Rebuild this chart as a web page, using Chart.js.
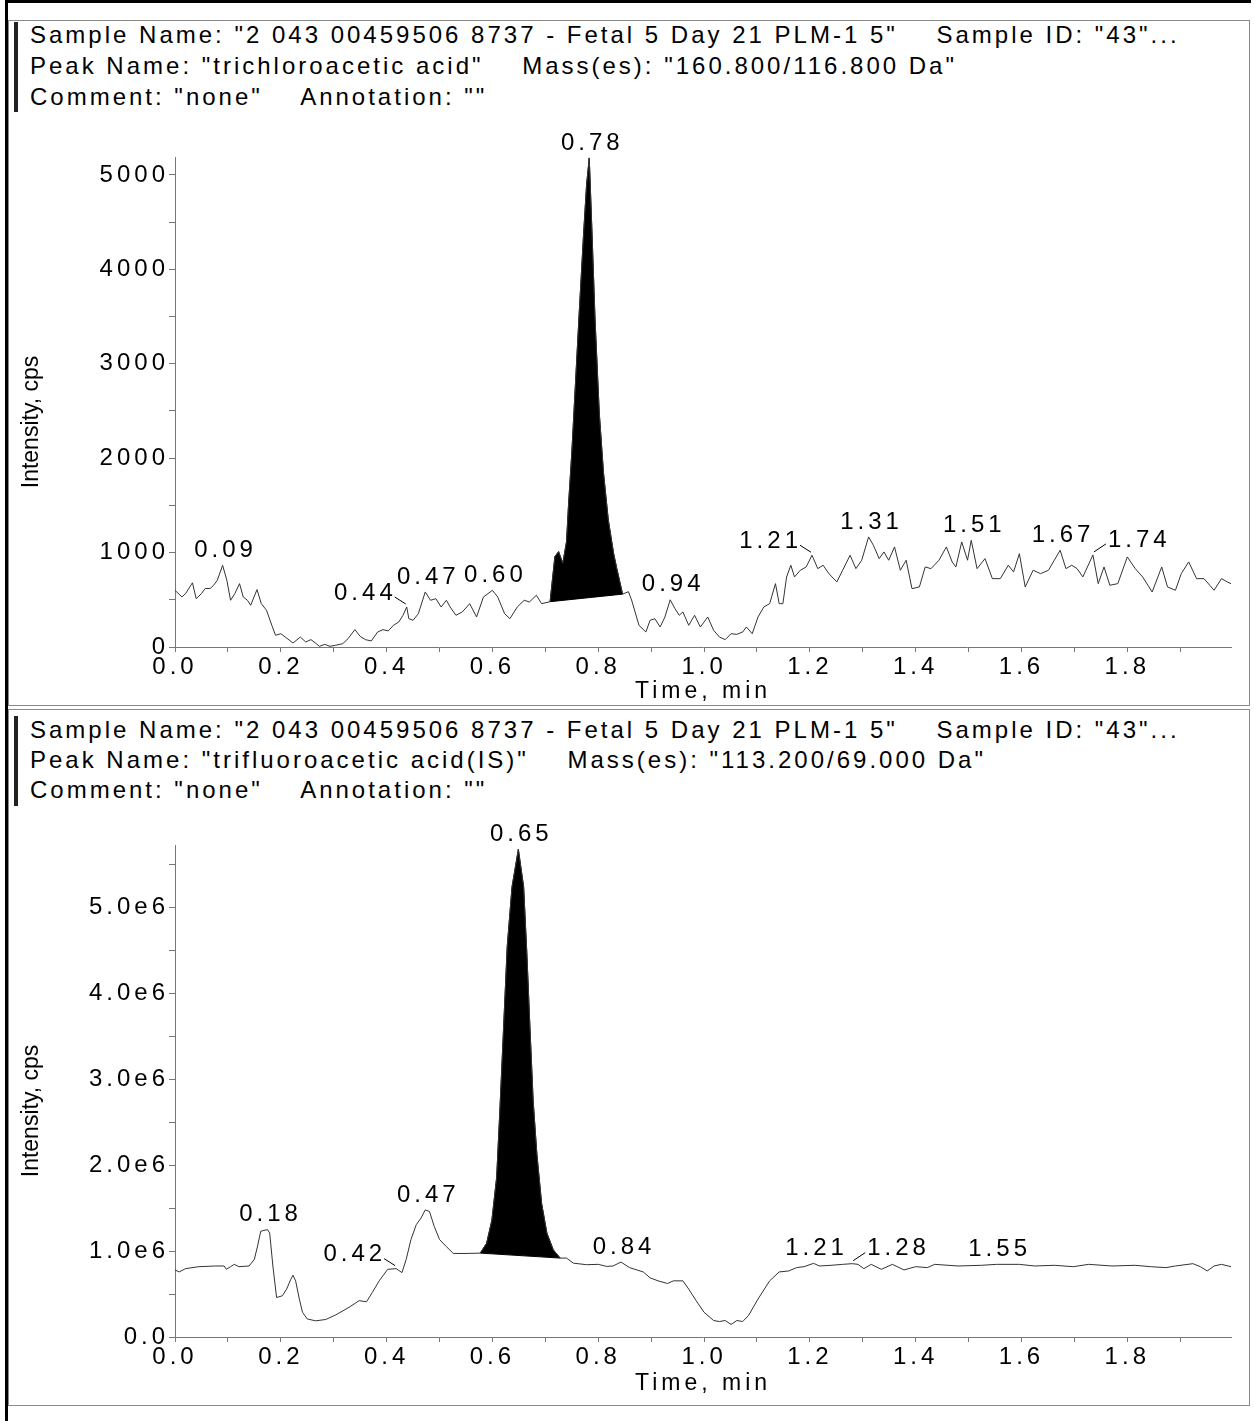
<!DOCTYPE html>
<html>
<head>
<meta charset="utf-8">
<title>Chromatograms</title>
<script src="https://cdn.jsdelivr.net/npm/chart.js@4.4.1/dist/chart.umd.min.js"></script>
<style>
  html, body { margin: 0; padding: 0; background: #fff; }
  body { width: 1254px; height: 1421px; position: relative; overflow: hidden; font-family: "Liberation Sans", Arial, sans-serif; }
  .frame { position: absolute; left: 5px; top: 0; width: 1246px; height: 1421px; border-top: 3px solid #000; border-left: 3px solid #000; box-sizing: border-box; }
  .panel { position: absolute; left: 8px; width: 1242px; border: 1px solid #8a8a8a; box-sizing: border-box; }
  .bar { position: absolute; left: 14px; width: 4px; background: #222; }
  .header { position: absolute; left: 30px; font-size: 24px; letter-spacing: 3px; color: #000; white-space: pre; }
  canvas { position: absolute; left: 0; }
</style>
</head>
<body>
<div class="frame"></div>
<div class="panel" style="top:20px;height:686px"></div>
<div class="panel" style="top:709px;height:697px"></div>
<div class="bar" style="top:22px;height:90px"></div>
<div class="bar" style="top:716px;height:90px"></div>
<div class="header" style="top:19px;line-height:31px">Sample Name: "2 043 00459506 8737 - Fetal 5 Day 21 PLM-1 5"    Sample ID: "43"...
Peak Name: "trichloroacetic acid"    Mass(es): "160.800/116.800 Da"
Comment: "none"    Annotation: ""</div>
<div class="header" style="top:715px;line-height:30px">Sample Name: "2 043 00459506 8737 - Fetal 5 Day 21 PLM-1 5"    Sample ID: "43"...
Peak Name: "trifluoroacetic acid(IS)"    Mass(es): "113.200/69.000 Da"
Comment: "none"    Annotation: ""</div>
<canvas id="tcaChart" width="1254" height="593" style="top:112px"></canvas>
<canvas id="tfaChart" width="1254" height="595" style="top:810px"></canvas>
<script>
// trichloroacetic acid, 160.8/116.8 Da (time in min, intensity in cps)
const time1 = [0, 0.013, 0.02, 0.03, 0.033, 0.04, 0.05, 0.057, 0.067, 0.073, 0.08, 0.09, 0.098, 0.105, 0.113, 0.122, 0.129, 0.137, 0.143, 0.155,
  0.163, 0.173, 0.183, 0.19, 0.2, 0.21, 0.223, 0.237, 0.247, 0.257, 0.267, 0.273, 0.283, 0.293, 0.303, 0.317, 0.327, 0.34, 0.35, 0.36,
  0.371, 0.383, 0.393, 0.403, 0.413, 0.423, 0.431, 0.438, 0.442, 0.45, 0.46, 0.473, 0.483, 0.493, 0.503, 0.513, 0.52, 0.531, 0.543, 0.557,
  0.57, 0.583, 0.6, 0.61, 0.623, 0.633, 0.647, 0.66, 0.67, 0.683, 0.693, 0.709, 0.718, 0.725, 0.733, 0.74, 0.744, 0.75, 0.756, 0.764,
  0.772, 0.778, 0.783, 0.788, 0.794, 0.802, 0.81, 0.819, 0.829, 0.835, 0.846, 0.857, 0.863, 0.877, 0.89, 0.898, 0.907, 0.917, 0.926, 0.936,
  0.945, 0.953, 0.96, 0.971, 0.982, 0.993, 1.007, 1.018, 1.029, 1.04, 1.051, 1.062, 1.073, 1.08, 1.091, 1.102, 1.113, 1.124, 1.135, 1.142,
  1.149, 1.156, 1.164, 1.171, 1.182, 1.193, 1.204, 1.215, 1.225, 1.236, 1.251, 1.262, 1.276, 1.287, 1.298, 1.311, 1.32, 1.331, 1.34, 1.349,
  1.36, 1.371, 1.382, 1.393, 1.407, 1.418, 1.429, 1.444, 1.458, 1.469, 1.476, 1.487, 1.498, 1.505, 1.516, 1.531, 1.545, 1.56, 1.575, 1.585,
  1.596, 1.607, 1.622, 1.636, 1.651, 1.662, 1.673, 1.684, 1.695, 1.705, 1.716, 1.735, 1.745, 1.756, 1.767, 1.782, 1.8, 1.815, 1.829, 1.847,
  1.865, 1.876, 1.891, 1.902, 1.916, 1.931, 1.945, 1.964, 1.978, 1.989, 1.996]
const intensity1 = [600, 530, 565, 655, 680, 512, 565, 620, 620, 655, 707, 866, 707, 495, 565, 671, 530, 495, 442, 608,
  460, 389, 230, 124, 141, 99, 42, 106, 53, 78, 35, 7, 28, 7, 18, 35, 88, 184, 113, 78,
  64, 159, 184, 170, 230, 265, 336, 424, 300, 283, 353, 583, 495, 512, 424, 495, 424, 336, 371, 459,
  318, 530, 600, 530, 353, 300, 424, 495, 477, 548, 459, 480, 957, 1010, 887, 1115, 1523, 2053, 2690, 3536,
  4347, 4900, 5180, 4417, 3464, 2475, 1840, 1345, 992, 833, 560, 586, 498, 230, 159, 283, 300, 212, 318, 500,
  406, 336, 371, 230, 336, 212, 318, 177, 106, 78, 141, 134, 159, 212, 141, 318, 424, 459, 671, 459,
  459, 742, 866, 742, 813, 848, 972, 830, 866, 777, 689, 813, 972, 830, 919, 1166, 1078, 936, 1007, 919,
  1060, 813, 919, 618, 636, 848, 830, 919, 1060, 901, 848, 1113, 919, 1130, 830, 936, 724, 724, 866, 795,
  989, 636, 813, 777, 813, 919, 1025, 830, 866, 830, 742, 975, 671, 848, 654, 671, 954, 830, 742, 583,
  848, 636, 601, 777, 901, 724, 724, 601, 724, 689, 671]
const baseTime1 = [0.709, 0.846]
const baseIntensity1 = [480, 560]
const peakLabels1 = ['0.09', '0.44', '0.47', '0.60', '0.78', '0.94', '1.21', '1.31', '1.51', '1.67', '1.74']
const leaders1 = { '0.44': 'left', '1.21': 'left', '1.74': 'right' }
const yTicks1 = [0, 1000, 2000, 3000, 4000, 5000]

// trifluoroacetic acid (IS), 113.2/69.0 Da (intensity in millions of cps)
const time2 = [0, 0.008, 0.02, 0.045, 0.077, 0.093, 0.097, 0.105, 0.112, 0.121, 0.14, 0.15, 0.156, 0.162, 0.168, 0.175, 0.179, 0.185, 0.192, 0.203,
  0.211, 0.219, 0.223, 0.228, 0.235, 0.241, 0.25, 0.266, 0.285, 0.304, 0.329, 0.348, 0.362, 0.373, 0.386, 0.402, 0.418, 0.429, 0.437, 0.446,
  0.456, 0.465, 0.473, 0.481, 0.49, 0.5, 0.512, 0.526, 0.55, 0.577, 0.589, 0.599, 0.608, 0.614, 0.621, 0.628, 0.637, 0.649, 0.659, 0.665,
  0.671, 0.677, 0.684, 0.693, 0.703, 0.715, 0.728, 0.74, 0.753, 0.778, 0.8, 0.816, 0.828, 0.843, 0.859, 0.885, 0.898, 0.913, 0.931, 0.942,
  0.96, 0.971, 0.985, 1.0, 1.018, 1.029, 1.04, 1.051, 1.062, 1.073, 1.084, 1.102, 1.124, 1.142, 1.16, 1.175, 1.189, 1.207, 1.218, 1.24,
  1.262, 1.28, 1.291, 1.302, 1.316, 1.335, 1.356, 1.378, 1.4, 1.422, 1.436, 1.48, 1.524, 1.553, 1.596, 1.625, 1.662, 1.698, 1.727, 1.771,
  1.815, 1.844, 1.873, 1.891, 1.924, 1.938, 1.951, 1.964, 1.978, 1.996]
const intensity2 = [0.78, 0.758, 0.796, 0.819, 0.827, 0.827, 0.788, 0.819, 0.846, 0.819, 0.827, 0.904, 1.058, 1.231, 1.242, 1.25, 1.21, 0.827, 0.46, 0.48,
  0.558, 0.673, 0.719, 0.654, 0.442, 0.288, 0.21, 0.188, 0.204, 0.258, 0.346, 0.423, 0.41, 0.519, 0.654, 0.788, 0.796, 0.75, 0.904, 1.135,
  1.308, 1.385, 1.48, 1.462, 1.288, 1.135, 1.058, 0.973, 0.973, 0.977, 1.092, 1.361, 1.86, 2.63, 3.59, 4.55, 5.24, 5.68, 5.24, 4.475,
  3.59, 2.745, 2.13, 1.554, 1.208, 1.015, 0.919, 0.919, 0.86, 0.842, 0.846, 0.822, 0.827, 0.873, 0.808, 0.758, 0.689, 0.654, 0.623, 0.654,
  0.654, 0.558, 0.423, 0.288, 0.192, 0.18, 0.192, 0.146, 0.192, 0.18, 0.25, 0.442, 0.654, 0.758, 0.769, 0.808, 0.819, 0.858, 0.827, 0.835,
  0.846, 0.854, 0.846, 0.796, 0.846, 0.788, 0.846, 0.781, 0.819, 0.808, 0.846, 0.827, 0.835, 0.846, 0.846, 0.827, 0.835, 0.819, 0.846, 0.827,
  0.835, 0.819, 0.808, 0.827, 0.854, 0.819, 0.769, 0.827, 0.846, 0.819]
const baseTime2 = [0.577, 0.728]
const baseIntensity2 = [0.977, 0.919]
const peakLabels2 = ['0.18', '0.42', '0.47', '0.65', '0.84', '1.21', '1.28', '1.55']
const leaders2 = { '0.42': 'left', '1.28': 'right' }
const yTicks2 = [0, 1, 2, 3, 4, 5]

const xTicks = [0, 0.2, 0.4, 0.6, 0.8, 1.0, 1.2, 1.4, 1.6, 1.8]

const FONT = '"Liberation Sans", Arial, sans-serif'
const SPACING = '4px'

// the instrument software draws its numbers with wide letter spacing
const spacingPlugin = {
  id: 'spacing',
  beforeUpdate(chart) { chart.ctx.letterSpacing = SPACING },
  beforeDraw(chart) { chart.ctx.letterSpacing = SPACING }
}

const peakLabelPlugin = {
  id: 'peakLabels',
  afterDatasetsDraw(chart, args, opts) {
    const { ctx, scales } = chart
    const trace = chart.data.datasets[0].data
    ctx.save()
    ctx.font = `24px ${FONT}`
    ctx.letterSpacing = SPACING
    ctx.fillStyle = '#000'
    ctx.strokeStyle = '#000'
    ctx.lineWidth = 1
    ctx.textBaseline = 'bottom'
    opts.labels.forEach(text => {
      const t = parseFloat(text)
      let best = null
      trace.forEach(p => {
        if (Math.abs(p.x - t) <= 0.012 && (!best || p.y > best.y)) best = p
      })
      if (!best) return
      const px = scales.x.getPixelForValue(best.x)
      const py = scales.y.getPixelForValue(best.y)
      const side = opts.leaders[text]
      if (side === 'left') {
        ctx.textAlign = 'right'
        ctx.fillText(text, px - 10, py - 2)
        ctx.beginPath(); ctx.moveTo(px - 12, py - 10); ctx.lineTo(px - 1, py - 3); ctx.stroke()
      } else if (side === 'right') {
        ctx.textAlign = 'left'
        ctx.fillText(text, px + 15, py - 3)
        ctx.beginPath(); ctx.moveTo(px + 1, py - 3); ctx.lineTo(px + 13, py - 11); ctx.stroke()
      } else {
        ctx.textAlign = 'center'
        ctx.fillText(text, px + 3, py - 3)
      }
    })
    ctx.restore()
  }
}

const yTitlePlugin = {
  id: 'yTitle',
  afterDraw(chart, args, opts) {
    const { ctx, chartArea } = chart
    ctx.save()
    ctx.letterSpacing = '0px'
    ctx.font = `23px ${FONT}`
    ctx.fillStyle = '#000'
    ctx.textAlign = 'center'
    ctx.textBaseline = 'middle'
    ctx.translate(32, (chartArea.top + chartArea.bottom) / 2 + 20)
    ctx.rotate(-Math.PI / 2)
    ctx.fillText(opts.text, 0, 0)
    ctx.restore()
  }
}

function stepTicks(max, step) {
  const ticks = []
  for (let i = 0; i * step <= max + 1e-9; i++) ticks.push({ value: +(i * step).toFixed(6) })
  return ticks
}

function makeChart(id, p) {
  const trace = p.time.map((t, i) => ({ x: t, y: p.values[i] }))
  const peak = trace.filter(pt => pt.x >= p.baseTime[0] - 1e-9 && pt.x <= p.baseTime[1] + 1e-9)
  const base = p.baseTime.map((t, i) => ({ x: t, y: p.baseValues[i] }))
  const canvas = document.getElementById(id)
  return new Chart(canvas, {
    type: 'line',
    data: {
      datasets: [
        { data: trace, borderColor: '#333', borderWidth: 1, pointRadius: 0, fill: false },
        { data: peak, borderColor: '#000', backgroundColor: '#000', borderWidth: 1, pointRadius: 0, fill: 2 },
        { data: base, borderColor: '#000', borderWidth: 1, pointRadius: 0, fill: false }
      ]
    },
    options: {
      responsive: false,
      animation: false,
      events: [],
      layout: { padding: { left: 0, right: 23, top: p.top, bottom: 0 } },
      elements: { line: { tension: 0 } },
      plugins: {
        legend: { display: false },
        tooltip: { enabled: false },
        peakLabels: { labels: p.labels, leaders: p.leaders },
        yTitle: { text: 'Intensity, cps' }
      },
      scales: {
        x: {
          type: 'linear',
          min: 0,
          max: 1.996,
          afterFit: s => { s.height = p.xHeight },
          afterBuildTicks: s => { s.ticks = stepTicks(1.996, 0.1) },
          border: { color: '#777', width: 1 },
          grid: { drawOnChartArea: false, drawTicks: true, tickLength: 5, color: '#777' },
          ticks: {
            autoSkip: false,
            maxRotation: 0,
            padding: 1,
            color: '#000',
            font: { family: FONT, size: 24 },
            callback: v => xTicks.some(t => Math.abs(t - v) < 1e-6) ? v.toFixed(1) : ''
          },
          title: { display: true, text: 'Time, min', color: '#000', font: { family: FONT, size: 23 }, padding: { top: 0, bottom: p.titlePad } }
        },
        y: {
          min: 0,
          max: p.yMax,
          afterFit: s => { s.width = 175 },
          afterBuildTicks: s => { s.ticks = stepTicks(p.yMax, p.yStep / 2) },
          border: { color: '#777', width: 1 },
          grid: { drawOnChartArea: false, drawTicks: true, tickLength: 6, color: '#777' },
          ticks: {
            autoSkip: false,
            padding: 0,
            color: '#000',
            font: { family: FONT, size: 24 },
            callback: v => p.yTicks.some(t => Math.abs(t - v) < 1e-6) ? p.format(v) : ''
          }
        }
      }
    },
    plugins: [spacingPlugin, peakLabelPlugin, yTitlePlugin]
  })
}

makeChart('tcaChart', {
  time: time1, values: intensity1, baseTime: baseTime1, baseValues: baseIntensity1,
  labels: peakLabels1, leaders: leaders1, yTicks: yTicks1, yStep: 1000, yMax: 5190,
  top: 45, xHeight: 58, titlePad: 0,
  format: v => String(v)
})

makeChart('tfaChart', {
  time: time2, values: intensity2, baseTime: baseTime2, baseValues: baseIntensity2,
  labels: peakLabels2, leaders: leaders2, yTicks: yTicks2, yStep: 1, yMax: 5.73,
  top: 35, xHeight: 68, titlePad: 8,
  format: v => v === 0 ? '0.0' : v.toFixed(1) + 'e6'
})
</script>
</body>
</html>
